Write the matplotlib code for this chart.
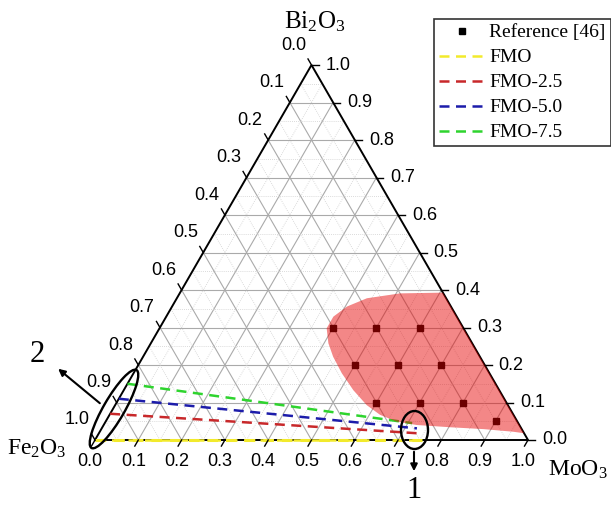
import numpy as np
import matplotlib.pyplot as plt
from matplotlib.patches import Ellipse, Polygon
from matplotlib.lines import Line2D

plt.rcParams['font.family'] = 'Liberation Sans'
plt.rcParams['mathtext.fontset'] = 'custom'
plt.rcParams['mathtext.rm'] = 'Liberation Serif'
plt.rcParams['mathtext.it'] = 'Liberation Serif'

# compositions as (MoO3, Bi2O3) fractions, Fe2O3 = 1 - MoO3 - Bi2O3
ref_moo3 = [0.4, 0.5, 0.6, 0.5, 0.6, 0.7, 0.6, 0.7, 0.8, 0.9]
ref_bi2o3 = [0.3, 0.3, 0.3, 0.2, 0.2, 0.2, 0.1, 0.1, 0.1, 0.05]

series_names = ['FMO', 'FMO-2.5', 'FMO-5.0', 'FMO-7.5']
series_colors = ['#f2ea2c', '#c8282a', '#1c1caa', '#2ed42e']
series_moo3 = [[0.0, 0.755], [0.0, 0.735], [0.0, 0.728], [0.0, 0.71]]
series_bi2o3 = [[0.0, 0.0], [0.07, 0.018], [0.11, 0.031], [0.15, 0.045]]

# outline of the shaded region (reference [46])
region_moo3 = [0.608, 0.509, 0.439, 0.404, 0.386, 0.386, 0.410, 0.439, 0.481,
               0.530, 0.581, 0.625, 0.672, 0.723, 0.803, 0.883, 0.955, 0.982]
region_bi2o3 = [0.393, 0.391, 0.378, 0.356, 0.329, 0.298, 0.258, 0.222, 0.178,
                0.133, 0.093, 0.067, 0.049, 0.040, 0.034, 0.029, 0.022, 0.018]

ticks = np.round(np.arange(0, 1.01, 0.1), 1)

H = np.sqrt(3) / 2
P = 1 / 433  # one pixel in data units


def to_xy(b, c):
    b = np.asarray(b, dtype=float)
    c = np.asarray(c, dtype=float)
    return b + c / 2, c * H


def px(x, y):
    return (x - 95) * P, (440 - y) * P


fig = plt.figure(figsize=(6.11, 5.05), dpi=100)
ax = fig.add_axes([0, 0, 1, 1])
ax.set_xlim(-95 * P, 516 * P)
ax.set_ylim(-65 * P, 440 * P)
ax.axis('off')

# grid
for v in np.arange(1, 20) / 20:
    major = (round(v * 20) % 2 == 0)
    kw = dict(color='#aaaaaa', lw=0.8, ls='-') if major else \
        dict(color='#cfcfcf', lw=0.6, ls=(0, (1, 1.5)))
    for b, c in [([0, 1 - v], [v, v]), ([v, v], [0, 1 - v]), ([1 - v, 0], [0, 1 - v])]:
        x, y = to_xy(b, c)
        ax.plot(x, y, zorder=1, **kw)

# series lines
for i in range(len(series_names)):
    x, y = to_xy(series_moo3[i], series_bi2o3[i])
    ax.plot(x, y, color=series_colors[i], lw=1.8, dashes=(4, 2.6), zorder=4)

# reference points
x, y = to_xy(ref_moo3, ref_bi2o3)
ax.plot(x, y, 's', color='k', ms=5, zorder=3)

# shaded region
rb = region_moo3 + [1 - region_bi2o3[-1], 1 - region_bi2o3[0]]
rc = region_bi2o3 + [region_bi2o3[-1], region_bi2o3[0]]
x, y = to_xy(rb, rc)
ax.add_patch(Polygon(np.column_stack([x, y]), closed=True, facecolor='#e60000',
                     edgecolor='none', alpha=0.47, zorder=5))

# triangle frame
x, y = to_xy([0, 1, 0, 0], [0, 0, 1, 0])
ax.plot(x, y, color='k', lw=1.4, zorder=3, solid_joinstyle='miter')
# yellow FMO drawn over axis
x, y = to_xy(series_moo3[0], series_bi2o3[0])
ax.plot(x, y, color=series_colors[0], lw=2.2, dashes=(3.5, 2.6), zorder=6)

tl = 7 * P
fs = 13
for t in ticks:
    # bottom: MoO3
    x0, y0 = to_xy(t, 0)
    ax.plot([x0, x0 - 0.5 * tl], [y0, y0 - H * tl], color='k', lw=1.0, zorder=6)
    ax.text(x0 - 5 * P, y0 - 21 * P, f'{t:.1f}', ha='center', va='center', fontsize=fs)
    # right: Bi2O3
    x0, y0 = to_xy(1 - t, t)
    ax.plot([x0, x0 + tl], [y0, y0], color='k', lw=1.0, zorder=6)
    ax.text(x0 + 14 * P, y0, f'{t:.1f}', ha='left', va='center', fontsize=fs)
    # left: Fe2O3
    x0, y0 = to_xy(0, 1 - t)
    ax.plot([x0, x0 - 0.5 * tl], [y0, y0 + H * tl], color='k', lw=1.0, zorder=6)
    ax.text(x0 - 18 * P, y0 + 20 * P, f'{t:.1f}', ha='center', va='center', fontsize=fs)

serif = 'Liberation Serif'
ax.text(*px(315, 22), 'Bi$_2$O$_3$', ha='center', va='center', fontsize=18, family=serif)
ax.text(*px(37, 449), 'Fe$_2$O$_3$', ha='center', va='center', fontsize=17, family=serif)
ax.text(*px(578, 470), 'MoO$_3$', ha='center', va='center', fontsize=17, family=serif)

# callouts
ax.add_patch(Ellipse(px(414.5, 430), 27 * P, 38 * P, facecolor='none',
                     edgecolor='k', lw=1.7, zorder=7))
ax.add_patch(Ellipse(px(114, 409), 90 * P, 21 * P, angle=60, facecolor='none',
                     edgecolor='k', lw=1.7, zorder=7))
ax.annotate('', xy=px(414, 474), xytext=px(414, 449),
            arrowprops=dict(arrowstyle='-|>', lw=1.5, color='k', mutation_scale=10))
ax.annotate('', xy=px(56, 367), xytext=px(102, 405),
            arrowprops=dict(arrowstyle='-|>', lw=1.5, color='k', mutation_scale=10))
ax.text(*px(414, 491), '1', ha='center', va='center', fontsize=22, family=serif)
ax.text(*px(37, 354), '2', ha='center', va='center', fontsize=22, family=serif)

# legend
handles = [Line2D([], [], marker='s', color='k', ls='none', ms=5)]
for c in series_colors:
    handles.append(Line2D([], [], color=c, lw=1.8, dashes=(4, 2.6)))
labels = ['Reference [46]'] + series_names
leg = fig.legend(handles, labels, loc='upper left', bbox_to_anchor=(434 / 611, 1 - 19 / 505),
                 prop={'family': serif, 'size': 14}, frameon=True, fancybox=False,
                 edgecolor='#333333', framealpha=1, borderpad=0.25, labelspacing=0.38,
                 handlelength=2.4, handletextpad=0.2, borderaxespad=0)
leg.get_frame().set_linewidth(1.2)

fig.savefig('out.png', dpi=100)
